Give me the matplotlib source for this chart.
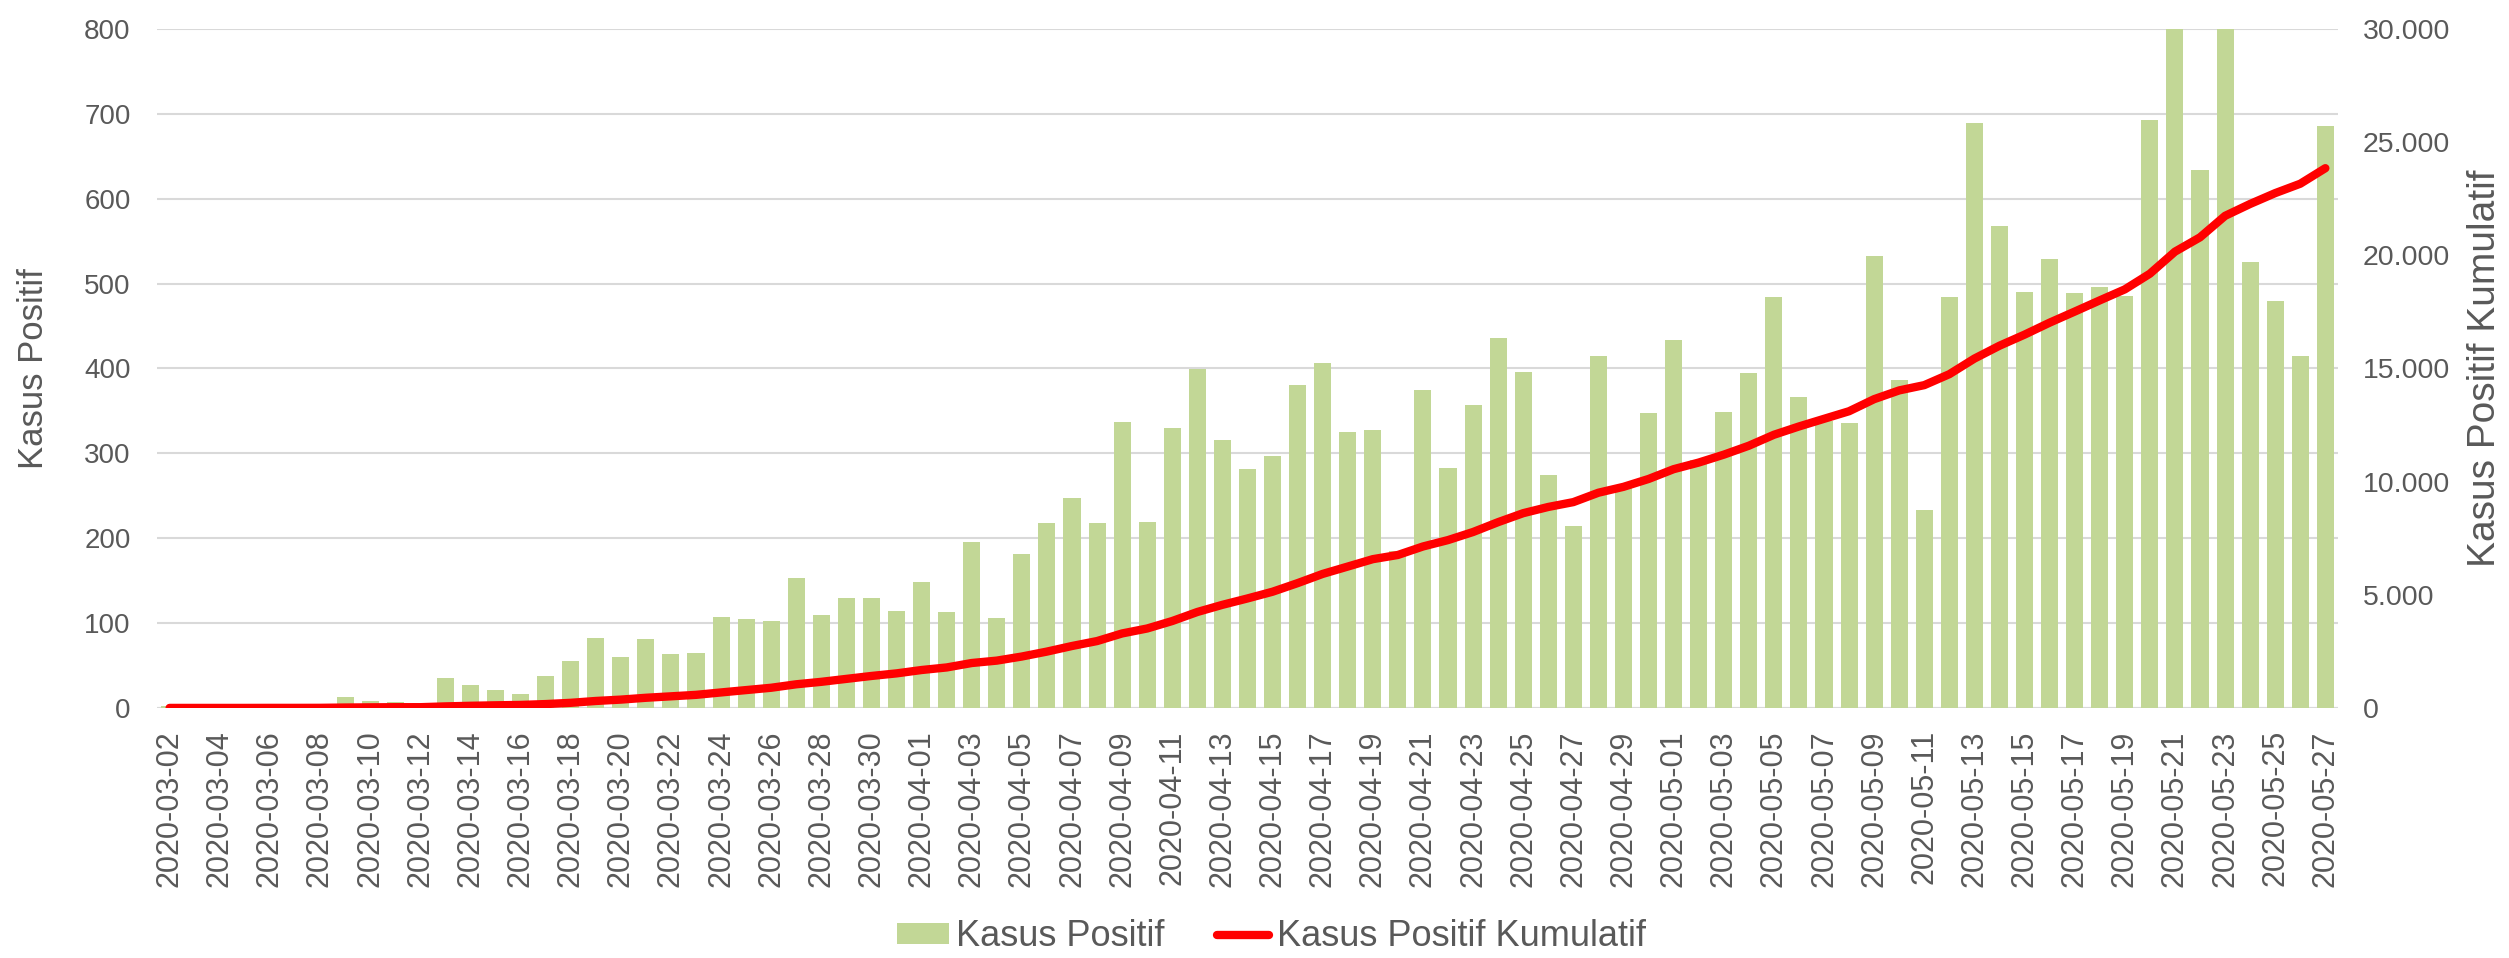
import numpy as np
import pandas as pd
import matplotlib
matplotlib.use('Agg')
import matplotlib.pyplot as plt
from matplotlib.patches import Patch
from matplotlib.lines import Line2D
from matplotlib.ticker import FuncFormatter

plt.rcParams['font.family'] = ['Liberation Sans', 'DejaVu Sans']

# Data: daily positive cases and cumulative, 2020-03-02 .. 2020-05-27
dates = pd.date_range('2020-03-02', '2020-05-27', freq='D').strftime('%Y-%m-%d').tolist()

daily = [
    # March 2 - 31
    2, 0, 0, 0, 2, 0, 2, 13, 8, 7, 6, 35, 27, 21, 17, 38, 55, 82, 60, 81,
    64, 65, 107, 105, 103, 153, 109, 130, 129, 114,
    # April 1 - 30
    149, 113, 196, 106, 181, 218, 247, 218, 337, 219, 330, 399, 316, 282, 297,
    380, 407, 325, 327, 185, 375, 283, 357, 436, 396, 275, 214, 415, 260, 347,
    # May 1 - 27
    433, 292, 349, 395, 484, 367, 338, 336, 533, 387, 233, 484, 689, 568, 490,
    529, 489, 496, 486, 693, 973, 634, 949, 526, 479, 415, 686,
]

cumulative = [
    # March 2 - 31
    2, 2, 2, 2, 4, 4, 6, 19, 27, 34, 34, 69, 96, 117, 134, 172, 227, 309, 369, 450,
    514, 579, 686, 790, 893, 1046, 1155, 1285, 1414, 1528,
    # April 1 - 30
    1677, 1790, 1986, 2092, 2273, 2491, 2738, 2956, 3293, 3512, 3842, 4241, 4557,
    4839, 5136, 5516, 5923, 6248, 6575, 6760, 7135, 7418, 7775, 8211, 8607, 8882,
    9096, 9511, 9771, 10118,
    # May 1 - 27
    10551, 10843, 11192, 11587, 12071, 12438, 12776, 13112, 13645, 14032, 14265,
    14749, 15438, 16006, 16496, 17025, 17514, 18010, 18496, 19189, 20162, 20796,
    21745, 22271, 22750, 23165, 23851,
]

bar_color = '#C2D796'
line_color = '#FF0000'
text_color = '#595959'
grid_color = '#D9D9D9'

x = np.arange(len(dates))

fig = plt.figure(figsize=(25.09, 9.58), dpi=100)
ax = fig.add_axes([0.0626, 0.2610, 0.8692, 0.7087])
ax2 = ax.twinx()

ax.bar(x, daily, width=0.68, color=bar_color, zorder=2)
ax2.plot(x, cumulative, color=line_color, linewidth=6, solid_capstyle='round', zorder=3)

ax.set_xlim(-0.5, len(dates) - 0.5)
ax.set_ylim(0, 800)
ax2.set_ylim(0, 30000)
ax.set_yticks(np.arange(0, 801, 100))
ax2.set_yticks(np.arange(0, 30001, 5000))
ax2.yaxis.set_major_formatter(FuncFormatter(lambda v, p: f'{v:,.0f}'.replace(',', '.')))

ax.set_axisbelow(True)
ax.grid(axis='y', color=grid_color, linewidth=1.5)
ax.grid(axis='x', visible=False)

for a in (ax, ax2):
    for s in a.spines.values():
        s.set_visible(False)

ax.axhline(0, color=grid_color, linewidth=1.5, zorder=1)

ax.set_xticks(x[::2])
ax.set_xticklabels(dates[::2], rotation=90, fontsize=22, color=text_color)
ax.tick_params(axis='x', length=0, pad=16)
ax.tick_params(axis='y', length=0, pad=19, labelsize=20, labelcolor=text_color)
ax2.tick_params(axis='y', length=0, pad=18, labelsize=20.5, labelcolor=text_color)

ax.set_ylabel('Kasus Positif', fontsize=25, color=text_color)
ax.yaxis.set_label_coords(-0.0493, 0.5)
ax2.set_ylabel('Kasus Positif Kumulatif', fontsize=28, color=text_color, rotation=90)
ax2.yaxis.set_label_coords(1.0590, 0.5)

handles = [Patch(facecolor=bar_color, label='Kasus Positif'),
           Line2D([], [], color=line_color, linewidth=6, solid_capstyle='round',
                  label='Kasus Positif Kumulatif')]
fig.legend(handles=handles, loc='center', bbox_to_anchor=(0.5066, 0.022), ncol=2,
           frameon=False, fontsize=26, labelcolor=text_color, handlelength=1.45,
           handleheight=0.53, handletextpad=0.2, columnspacing=1.45)

fig.savefig('out.png', dpi=100)
